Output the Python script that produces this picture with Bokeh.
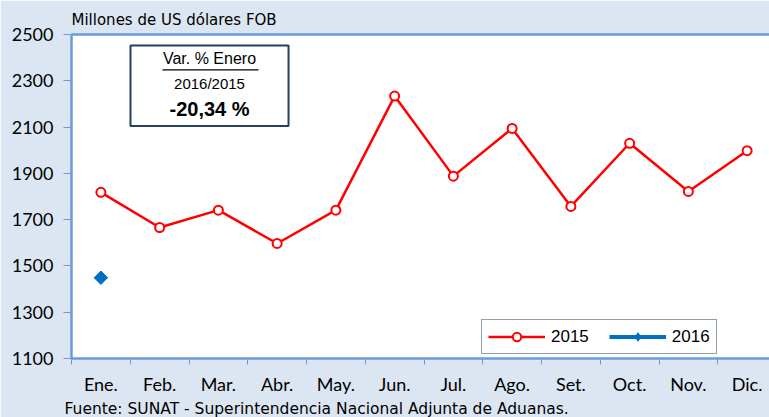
import numpy as np
from bokeh.plotting import figure
from bokeh.models import (FixedTicker, LinearAxis, Legend, LegendItem, Title,
                          BoxAnnotation, Label, Range1d, Arrow)
from bokeh.embed import file_html
from bokeh.resources import INLINE

months = ["Ene.", "Feb.", "Mar.", "Abr.", "May.", "Jun.", "Jul.", "Ago.",
          "Set.", "Oct.", "Nov.", "Dic."]
v2015 = [1818, 1666, 1741, 1597, 1741, 2234, 1888, 2094, 1757, 2030, 1822, 1998]
v2016 = [1449]
y_ticks = [1100, 1300, 1500, 1700, 1900, 2100, 2300, 2500]

BLUE_AX = "#6a9bdc"
BG = "#dce6f2"
NAVY = "#243f60"

x15 = list(range(len(v2015)))
x16 = list(range(len(v2016)))

p = figure(frame_width=698, frame_height=324,
           x_range=Range1d(-0.5, -0.5 + 698 / 58.75),
           y_range=Range1d(1100, 2500),
           output_backend="svg", toolbar_location=None,
           min_border_left=71, min_border_right=0,
           min_border_top=34, min_border_bottom=59)
p.background_fill_color = "white"
p.border_fill_color = BG
p.outline_line_color = None
p.grid.visible = False

# x axis
xa = p.xaxis[0]
xa.ticker = FixedTicker(ticks=x15, minor_ticks=[i - 0.5 for i in range(13)])
xa.major_label_overrides = {i: m for i, m in enumerate(months)}
xa.major_tick_line_color = None
xa.major_tick_out = 0
xa.major_tick_in = 0
xa.minor_tick_line_color = BLUE_AX
xa.minor_tick_out = 6
xa.minor_tick_in = 0
xa.axis_line_color = BLUE_AX
xa.axis_line_width = 2.5
xa.major_label_text_font = "Lato"
xa.major_label_text_font_size = "18px"
xa.major_label_text_color = "black"
xa.major_label_standoff = 8

# y axis
ya = p.yaxis[0]
ya.ticker = FixedTicker(ticks=y_ticks)
ya.major_tick_line_color = BLUE_AX
ya.major_tick_out = 8
ya.major_tick_in = 0
ya.minor_tick_line_color = None
ya.axis_line_color = BLUE_AX
ya.axis_line_width = 2.5
ya.major_label_text_font = "Lato"
ya.major_label_text_font_size = "18px"
ya.major_label_text_color = "black"
ya.major_label_standoff = 10

# top line
top = LinearAxis(ticker=FixedTicker(ticks=[]), axis_line_color=BLUE_AX,
                 axis_line_width=2.5, major_label_text_font_size="0px",
                 major_tick_line_color=None, minor_tick_line_color=None)
p.add_layout(top, "above")

p.add_layout(Title(text="Millones de US dólares FOB", align="left",
                   text_font="DejaVu Sans", text_font_size="15px", standoff=12,
                   text_font_style="normal", text_color="black"), "above")
p.add_layout(Title(text="Fuente: SUNAT - Superintendencia Nacional Adjunta de Aduanas.",
                   align="left", offset=-7, text_font="DejaVu Sans", standoff=0,
                   text_font_size="15.5px", text_font_style="normal",
                   text_color="black"), "below")

# series
l15 = p.line(x15, v2015, line_color="#ff0000", line_width=2.5)
s15 = p.scatter(x15, v2015, marker="circle", size=9, line_color="#ff0000",
                line_width=2, fill_color="white")
l16 = p.line(x16, v2016, line_color="#0070c0", line_width=4)
s16 = p.scatter(x16, v2016, marker="square", angle=np.pi / 4, size=9.5,
                line_color="#0070c0", fill_color="#0070c0")
# legend-only marker (no data drawn)
s16_leg = p.scatter([np.nan], [np.nan], marker="diamond", size=14,
                    line_color="#0070c0", fill_color="#0070c0")

legend = Legend(items=[LegendItem(label="2015", renderers=[l15, s15]),
                       LegendItem(label="2016", renderers=[l16, s16_leg])],
                location=(410, 4), orientation="horizontal",
                border_line_color=NAVY, border_line_width=1,
                background_fill_color="white", background_fill_alpha=1,
                glyph_width=57, glyph_height=21, label_standoff=6,
                spacing=20, padding=6, margin=0,
                label_text_font="Liberation Sans", label_text_font_size="17px",
                label_text_color="black")
p.add_layout(legend)

# annotation box
p.add_layout(BoxAnnotation(left=0.504, right=3.194, top=2453, bottom=2105,
                           fill_color="white", fill_alpha=1,
                           line_color=NAVY, line_alpha=1, line_width=2))
p.add_layout(Label(x=1.849, y=2398, text="Var. % Enero", text_align="center",
                   text_baseline="middle", text_font="Liberation Sans",
                   text_font_size="16px", text_color="black"))
p.add_layout(Arrow(end=None, x_start=1.049, y_start=2347, x_end=2.683,
                   y_end=2347, line_color="black", line_width=1.3))
p.add_layout(Label(x=1.849, y=2287, text="2016/2015", text_align="center",
                   text_baseline="middle", text_font="Liberation Sans",
                   text_font_size="15px", text_color="black"))
p.add_layout(Label(x=1.849, y=2178, text="-20,34 %", text_align="center",
                   text_baseline="middle", text_font="Liberation Sans",
                   text_font_size="20px", text_font_style="bold",
                   text_color="black"))

open("out.html", "w").write(file_html(p, INLINE))
